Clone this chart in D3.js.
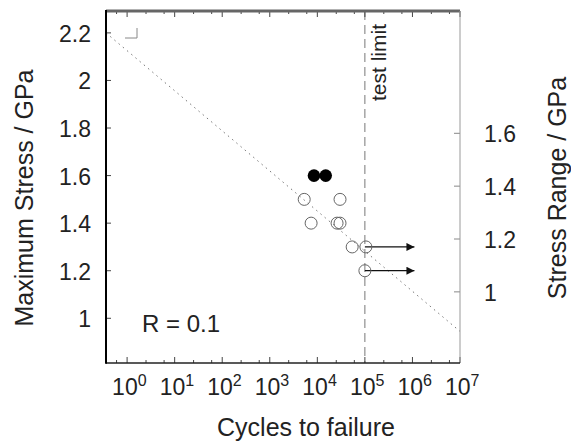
<!DOCTYPE html>
<html>
<head>
<meta charset="utf-8">
<script src="https://cdn.jsdelivr.net/npm/d3@7"></script>
<style>
  body { margin: 0; background: #fff; }
  text { font-family: "Liberation Sans", Arial, sans-serif; fill: #222; }
</style>
</head>
<body>
<div class="container"></div>
<script>
const WIDTH = 571;
const HEIGHT = 442;
const LEFT = 106, RIGHT = 460, TOP = 11, BOTTOM = 363;

// failures and runouts: [cycles, max stress GPa]
var openPoints = [
    [5300, 1.5], [30000, 1.5],
    [7400, 1.4], [26000, 1.4], [30000, 1.4],
    [54000, 1.3], [105000, 1.3],
    [100000, 1.2]
];
var filledPoints = [[8500, 1.6], [15000, 1.6]];
var runouts = [[100000, 1.3, 1.1e6], [100000, 1.2, 1.1e6]];
var fitLine = [[0.36, 2.2], [1e7, 0.945]];
var testLimit = 1e5;
var R = 0.1;

var xDecades = [0, 1, 2, 3, 4, 5, 6, 7];
var xMinor = [0.6, 2.5, 6, 25, 60, 250, 600, 2500, 6000, 25000, 60000,
    250000, 600000, 2500000, 6000000];
var leftTicks = [1, 1.2, 1.4, 1.6, 1.8, 2, 2.2];
var rightTicks = [1, 1.2, 1.4, 1.6];

var translate = function(x, y) {
    return `translate(${x},${y})`;
};

var draw = function() {
    var svg = d3.select('.container').append('svg')
        .attr('width', WIDTH)
        .attr('height', HEIGHT);

    let x = d3.scaleLog().domain([0.36, 1e7]).range([LEFT, RIGHT]);
    let y = d3.scaleLinear().domain([0.812, 2.292]).range([BOTTOM, TOP]);
    // stress range = (1 - R) * max stress
    let y2 = d3.scaleLinear().domain(y.domain().map(d => d * (1 - R))).range([BOTTOM, TOP]);

    // fit line
    var line = d3.line().x(d => x(d[0])).y(d => y(d[1]));
    svg.append('path')
        .attr('d', line(fitLine))
        .attr('fill', 'none')
        .attr('stroke', '#777')
        .attr('stroke-width', 1)
        .attr('stroke-dasharray', '1.5,4');

    // test limit
    svg.append('line')
        .attr('x1', x(testLimit)).attr('x2', x(testLimit))
        .attr('y1', TOP).attr('y2', BOTTOM)
        .attr('stroke', '#777')
        .attr('stroke-dasharray', '9,5');
    svg.append('text')
        .attr('transform', translate(x(testLimit) + 21, 101) + ' rotate(-90)')
        .attr('font-size', 21)
        .text('test limit');

    // axes ticks
    var ticks = svg.append('g').attr('stroke-width', 1);
    xDecades.forEach(k => {
        let px = x(Math.pow(10, k));
        ticks.append('line').attr('x1', px).attr('x2', px).attr('y1', BOTTOM).attr('y2', BOTTOM - 6).attr('stroke', '#444');
        ticks.append('line').attr('x1', px).attr('x2', px).attr('y1', TOP).attr('y2', TOP + 6).attr('stroke', '#444');
    });
    xMinor.forEach(v => {
        let px = x(v);
        ticks.append('line').attr('x1', px).attr('x2', px).attr('y1', BOTTOM).attr('y2', BOTTOM - 3).attr('stroke', '#444');
        ticks.append('line').attr('x1', px).attr('x2', px).attr('y1', TOP).attr('y2', TOP + 3).attr('stroke', '#444');
    });
    leftTicks.forEach(v => {
        ticks.append('line').attr('x1', LEFT).attr('x2', LEFT + 5).attr('y1', y(v)).attr('y2', y(v)).attr('stroke', '#444');
    });
    rightTicks.forEach(v => {
        ticks.append('line').attr('x1', RIGHT).attr('x2', RIGHT - 6).attr('y1', y2(v)).attr('y2', y2(v)).attr('stroke', '#888');
    });

    // tick labels
    svg.append('g').selectAll('text').data(leftTicks).join('text')
        .attr('x', 91).attr('y', d => y(d) + 9)
        .attr('text-anchor', 'end')
        .attr('font-size', 23)
        .text(d => d3.format('~g')(d));
    svg.append('g').selectAll('text').data(rightTicks).join('text')
        .attr('x', 484).attr('y', d => y2(d) + 9)
        .attr('text-anchor', 'start')
        .attr('font-size', 23)
        .text(d => d3.format('~g')(d));
    var xl = svg.append('g').selectAll('text').data(xDecades).join('text')
        .attr('x', d => x(Math.pow(10, d)) - 15).attr('y', 395)
        .attr('font-size', 23);
    xl.append('tspan').text('10');
    xl.append('tspan').attr('dy', -9).attr('font-size', 16).text(d => d);

    // axis titles
    svg.append('text')
        .attr('transform', translate(33, 198) + ' rotate(-90)')
        .attr('text-anchor', 'middle')
        .attr('font-size', 25)
        .text('Maximum Stress / GPa');
    svg.append('text')
        .attr('transform', translate(566, 188) + ' rotate(-90)')
        .attr('text-anchor', 'middle')
        .attr('font-size', 25)
        .text('Stress Range / GPa');
    svg.append('text')
        .attr('x', 306).attr('y', 436)
        .attr('text-anchor', 'middle')
        .attr('font-size', 25)
        .text('Cycles to failure');
    svg.append('text')
        .attr('x', 142).attr('y', 332)
        .attr('font-size', 24)
        .text('R = ' + R);

    // corner key mark
    svg.append('path')
        .attr('d', `M${125},${38}H${137}V${28}`)
        .attr('fill', 'none').attr('stroke', '#888');

    // runout arrows
    svg.append('defs').append('marker')
        .attr('id', 'arrow').attr('viewBox', '0 0 10 10')
        .attr('refX', 10).attr('refY', 5)
        .attr('markerWidth', 13).attr('markerHeight', 8)
        .attr('markerUnits', 'userSpaceOnUse')
        .attr('orient', 'auto')
        .append('path').attr('d', 'M0,0L10,5L0,10z').attr('fill', '#111');
    svg.append('g').selectAll('line').data(runouts).join('line')
        .attr('x1', d => x(d[0])).attr('x2', d => x(d[2]))
        .attr('y1', d => y(d[1])).attr('y2', d => y(d[1]))
        .attr('stroke', '#111').attr('stroke-width', 1.2)
        .attr('marker-end', 'url(#arrow)');

    // points
    svg.append('g').selectAll('circle').data(openPoints).join('circle')
        .attr('cx', d => x(d[0])).attr('cy', d => y(d[1])).attr('r', 6)
        .attr('fill', 'none').attr('stroke', '#666').attr('stroke-width', 1);
    svg.append('g').selectAll('circle').data(filledPoints).join('circle')
        .attr('cx', d => x(d[0])).attr('cy', d => y(d[1])).attr('r', 6.3)
        .attr('fill', '#000');

    // frame
    svg.append('line').attr('x1', LEFT).attr('x2', RIGHT).attr('y1', TOP).attr('y2', TOP)
        .attr('stroke', '#666').attr('stroke-width', 3);
    svg.append('line').attr('x1', RIGHT).attr('x2', RIGHT).attr('y1', TOP).attr('y2', BOTTOM)
        .attr('stroke', '#999').attr('stroke-width', 1);
    svg.append('line').attr('x1', LEFT).attr('x2', RIGHT).attr('y1', BOTTOM).attr('y2', BOTTOM)
        .attr('stroke', '#222').attr('stroke-width', 1.5);
    svg.append('line').attr('x1', LEFT).attr('x2', LEFT).attr('y1', TOP - 1).attr('y2', BOTTOM + 0.7)
        .attr('stroke', '#000').attr('stroke-width', 2);
};
window.onload = draw;
</script>
</body>
</html>
